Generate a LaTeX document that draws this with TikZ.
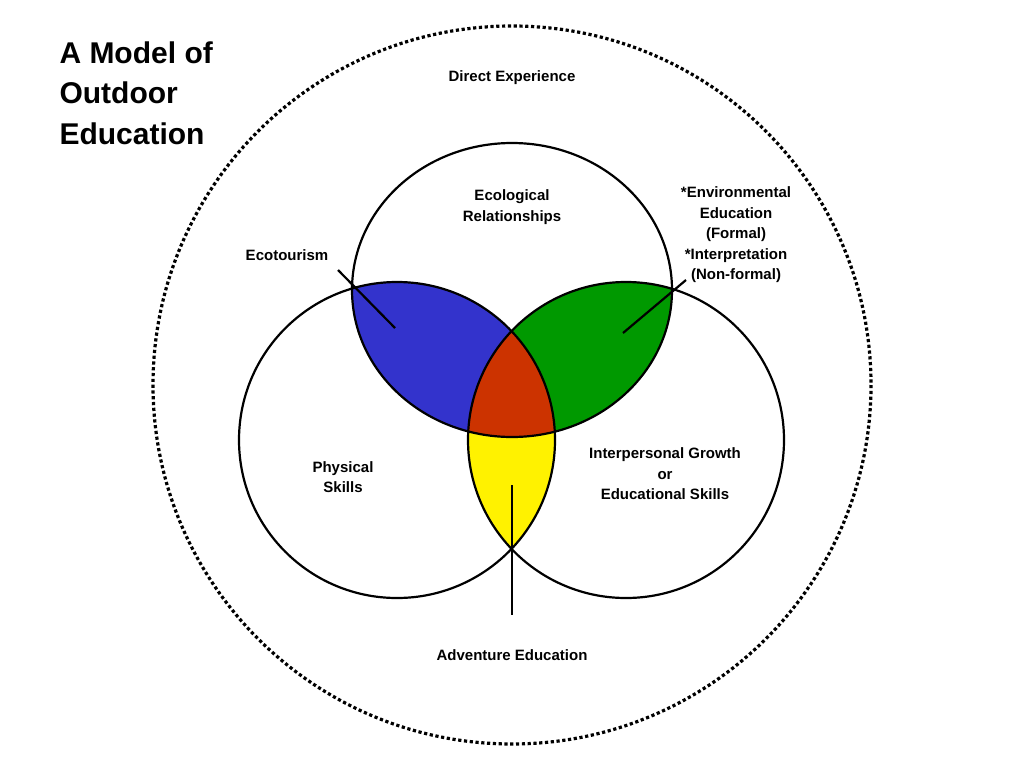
\documentclass[tikz,border=0pt]{standalone}
\usepackage{fontspec}
\setmainfont{Liberation Sans}
\begin{document}
\begin{tikzpicture}[x=1pt,y=-1pt,
  lbl/.style={align=center,font=\bfseries\fontsize{15}{20.5}\selectfont},
  ring/.style={line width=2.2pt},
  ptr/.style={line width=2.2pt}]
\useasboundingbox (0,0) rectangle (1024,768);
\def\topc{(512,290) ellipse [x radius=160,y radius=147]}
\def\leftc{(397,440) circle [radius=158]}
\def\rightc{(626,440) circle [radius=158]}
\definecolor{vblue}{RGB}{51,51,204}
\definecolor{vgreen}{RGB}{0,153,0}
\definecolor{vred}{RGB}{204,51,0}
\begin{scope}\clip \leftc; \fill[yellow] \rightc; \end{scope}
\begin{scope}\clip \topc; \fill[vblue] \leftc; \end{scope}
\begin{scope}\clip \topc; \fill[vgreen] \rightc; \end{scope}
\begin{scope}\clip \topc; \clip \leftc; \fill[vred] \rightc; \end{scope}
\draw[ring] \topc; \draw[ring] \leftc; \draw[ring] \rightc;
\draw[line width=3.2pt,dash pattern=on 3.2pt off 2.6pt] (512,385) circle [radius=359];
\coordinate (e1) at (338,270); \coordinate (e2) at (395,328);
\coordinate (g1) at (686,280); \coordinate (g2) at (623,333);
\coordinate (y1) at (512,485); \coordinate (y2) at (512,615);
\draw[ptr] (e1) -- (e2); \draw[ptr] (g1) -- (g2); \draw[ptr] (y1) -- (y2);
\node[anchor=north west,align=left,font=\bfseries\fontsize{30}{40.5}\selectfont] (title) at (56,38) {A Model of\\Outdoor\\Education};
\node[lbl] (de) at (512,78) {Direct Experience};
\node[lbl] (er) at (512,207) {Ecological\\Relationships};
\node[lbl] (eco) at (287,255) {Ecotourism};
\node[lbl] (env) at (736,235) {*Environmental\\Education\\(Formal)\\*Interpretation\\(Non-formal)};
\node[lbl] (ps) at (343,477) {Physical\\Skills};
\node[lbl] (ig) at (665,474) {Interpersonal Growth\\or\\Educational Skills};
\node[lbl] (ae) at (512,655) {Adventure Education};
\end{tikzpicture}
\end{document}
